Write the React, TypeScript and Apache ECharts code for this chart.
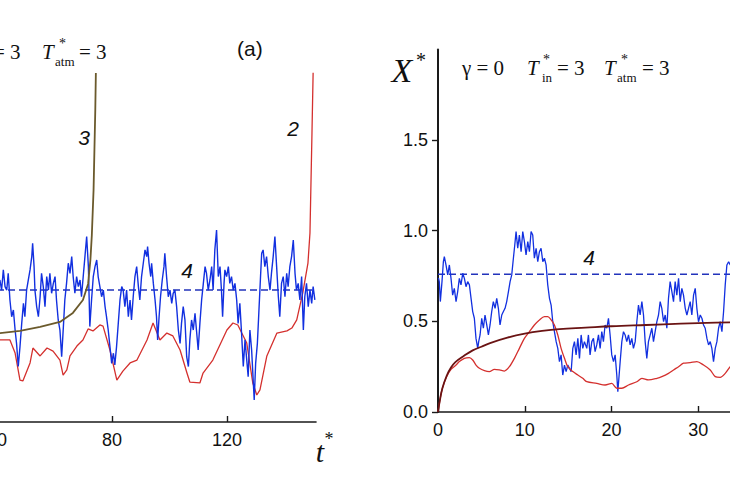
import React, { useEffect, useRef } from "react";
import * as echarts from "echarts";

// ---------- left panel (a) ----------
const leftXTicks = [40, 80, 120];
const leftDashLevel = 0.733;

const leftCurve3 = [
  [40.0, 0.492], [41.0, 0.494], [48.0, 0.506], [55.0, 0.528], [61.9, 0.556], [66.4, 0.606],
  [69.9, 0.678], [71.7, 0.767], [72.5, 0.9], [73.0, 1.039], [73.6, 1.289], [73.9, 1.511],
  [74.2, 1.733], [74.4, 1.939],
];

const leftCurve2 = [
  [40.0, 0.46], [41.0, 0.456], [44.5, 0.456], [46.3, 0.383], [48.0, 0.233], [49.0, 0.228],
  [51.5, 0.328], [52.5, 0.411], [55.0, 0.367], [57.4, 0.411], [59.5, 0.394], [61.9, 0.344],
  [63.0, 0.261], [64.3, 0.289], [65.4, 0.367], [67.8, 0.422], [69.9, 0.456], [71.7, 0.517],
  [73.4, 0.506], [75.8, 0.539], [76.9, 0.533], [79.3, 0.4], [81.7, 0.233], [83.8, 0.283],
  [86.3, 0.328], [88.7, 0.344], [92.2, 0.456], [94.3, 0.55], [96.7, 0.456], [99.1, 0.494],
  [101.2, 0.478], [103.7, 0.4], [106.1, 0.272], [107.1, 0.222], [110.6, 0.217], [111.7, 0.272],
  [115.1, 0.344], [120.0, 0.511], [122.1, 0.55], [123.8, 0.539], [126.9, 0.439], [129.0, 0.217],
  [130.4, 0.15], [131.5, 0.178], [133.9, 0.367], [137.4, 0.494], [140.9, 0.506], [142.6, 0.522],
  [144.3, 0.567], [146.4, 0.717], [148.2, 0.883], [148.9, 1.05], [149.6, 1.606], [150.0, 1.94],
];

const leftCurve4 = [
  [41.0, 0.789], [41.6, 0.733], [42.2, 0.845], [42.8, 0.752], [43.4, 0.733], [43.9, 0.826],
  [44.5, 0.678], [45.1, 0.585], [45.7, 0.622], [46.3, 0.511], [46.8, 0.437], [47.4, 0.308],
  [48.0, 0.419], [48.6, 0.548], [49.2, 0.659], [49.7, 0.585], [50.3, 0.733], [50.9, 0.789],
  [51.5, 0.845], [52.1, 0.919], [52.4, 0.993], [52.9, 0.863], [53.2, 0.733], [53.8, 0.641],
  [54.4, 0.585], [55.0, 0.696], [55.5, 0.826], [56.1, 0.752], [56.7, 0.641], [57.3, 0.808],
  [57.9, 0.733], [58.4, 0.826], [59.0, 0.715], [59.6, 0.77], [60.2, 0.808], [60.7, 0.678],
  [61.3, 0.567], [61.9, 0.511], [62.5, 0.363], [63.1, 0.53], [63.6, 0.678], [64.2, 0.77],
  [64.8, 0.882], [65.4, 0.826], [66.0, 0.919], [66.5, 0.808], [67.1, 0.715], [67.7, 0.808],
  [68.3, 0.752], [68.9, 0.789], [69.4, 0.696], [70.0, 0.808], [70.6, 0.919], [71.2, 1.03],
  [71.8, 0.863], [72.3, 0.53], [72.9, 0.678], [73.5, 0.808], [74.1, 0.863], [74.7, 0.9],
  [75.2, 0.808], [75.8, 0.752], [76.4, 0.696], [77.0, 0.733], [77.6, 0.641], [78.1, 0.585],
  [78.7, 0.511], [79.3, 0.419], [79.9, 0.326], [80.5, 0.382], [81.0, 0.317], [81.6, 0.419],
  [82.2, 0.548], [82.8, 0.678], [83.4, 0.752], [83.9, 0.733], [84.5, 0.641], [85.1, 0.733],
  [85.7, 0.585], [86.3, 0.678], [86.8, 0.567], [87.4, 0.696], [88.0, 0.808], [88.6, 0.863],
  [89.2, 0.752], [89.7, 0.678], [90.3, 0.808], [90.9, 0.882], [91.5, 0.956], [92.1, 0.919],
  [92.4, 0.974], [92.9, 0.882], [93.5, 0.808], [93.8, 0.882], [94.4, 0.77], [95.0, 0.678],
  [95.5, 0.585], [95.9, 0.456], [96.4, 0.585], [96.9, 0.696], [97.5, 0.789], [98.1, 0.863],
  [98.4, 0.937], [99.0, 0.808], [99.6, 0.696], [100.2, 0.733], [100.8, 0.659], [101.3, 0.715],
  [101.9, 0.733], [102.5, 0.641], [103.1, 0.511], [103.7, 0.437], [104.2, 0.548], [104.8, 0.641],
  [105.4, 0.567], [106.0, 0.363], [106.6, 0.308], [107.1, 0.456], [107.7, 0.567], [108.3, 0.511],
  [108.9, 0.604], [109.5, 0.493], [110.0, 0.4], [110.6, 0.548], [111.2, 0.678], [111.8, 0.77],
  [112.4, 0.863], [112.9, 0.826], [113.5, 0.733], [114.1, 0.789], [114.7, 0.863], [115.2, 0.733],
  [115.8, 0.956], [116.4, 1.067], [117.0, 0.808], [117.6, 0.863], [118.1, 0.733], [118.5, 0.585],
  [119.0, 0.77], [119.3, 0.845], [119.9, 0.808], [120.5, 0.863], [121.0, 0.77], [121.6, 0.808],
  [122.2, 0.733], [122.8, 0.77], [123.4, 0.678], [123.9, 0.548], [124.5, 0.659], [125.1, 0.493],
  [125.7, 0.308], [126.3, 0.456], [126.8, 0.363], [127.4, 0.252], [128.0, 0.511], [128.6, 0.4],
  [129.2, 0.215], [129.5, 0.122], [130.0, 0.326], [130.6, 0.437], [131.1, 0.604], [131.7, 0.808],
  [132.1, 0.937], [132.6, 0.956], [133.2, 0.863], [133.8, 0.919], [134.4, 0.808], [135.0, 0.733],
  [135.5, 0.826], [136.1, 0.919], [136.7, 1.03], [137.3, 0.863], [137.9, 0.696], [138.4, 0.585],
  [139.0, 0.77], [139.6, 0.808], [140.2, 0.696], [140.8, 0.826], [141.3, 0.752], [141.9, 0.863],
  [142.5, 0.919], [143.1, 1.011], [143.7, 0.826], [144.2, 0.733], [144.8, 0.77], [145.4, 0.678],
  [146.0, 0.808], [146.6, 0.511], [147.1, 0.696], [147.7, 0.77], [148.3, 0.641], [148.9, 0.733],
  [149.5, 0.659], [150.0, 0.752], [150.6, 0.678],
];

// ---------- right panel ----------
const rightXTicks = [0, 10, 20, 30];
const rightYTicks = [0, 0.5, 1.0, 1.5];
const rightDashLevel = 0.76;

const rightSmooth = [
  [0, 0], [0.2, 0.06], [0.5, 0.13], [1, 0.2], [1.5, 0.245], [2, 0.275], [3, 0.31], [4, 0.34],
  [5, 0.36], [6, 0.38], [8, 0.41], [10, 0.432], [12, 0.447], [14, 0.457], [17, 0.465],
  [20, 0.473], [24, 0.48], [28, 0.487], [30, 0.49], [34, 0.495], [40, 0.5],
];

const rightRed = [
  [0, 0], [0.2, 0.06], [0.5, 0.13], [1, 0.195], [1.5, 0.235], [2.08, 0.259], [2.46, 0.278],
  [3.04, 0.296], [3.62, 0.3], [4.0, 0.287], [4.38, 0.259], [4.77, 0.241], [5.35, 0.228],
  [5.92, 0.223], [6.5, 0.235], [7.08, 0.232], [7.65, 0.226], [8.23, 0.25], [8.81, 0.296],
  [9.38, 0.351], [9.96, 0.406], [10.54, 0.443], [11.11, 0.48], [11.69, 0.508], [12.27, 0.526],
  [12.65, 0.526], [13.04, 0.508], [13.42, 0.48], [13.81, 0.425], [14.19, 0.351], [14.58, 0.296],
  [14.96, 0.25], [15.54, 0.223], [16.12, 0.204], [16.69, 0.186], [17.15, 0.167], [18.3, 0.158],
  [19.26, 0.149], [20.03, 0.158], [20.61, 0.131], [21.19, 0.131], [21.96, 0.149], [22.92, 0.167],
  [23.5, 0.186], [24.26, 0.177], [25.23, 0.186], [25.8, 0.195], [26.57, 0.213], [27.15, 0.232],
  [27.73, 0.25], [28.3, 0.269], [29.07, 0.272], [29.84, 0.278], [30.61, 0.259], [31.38, 0.232],
  [31.96, 0.195], [32.53, 0.191], [33.11, 0.213], [33.69, 0.25], [34.2, 0.27],
];

const rightBlue = [
  [0.05, 0.74], [0.15, 0.719], [0.27, 0.609], [0.46, 0.719], [0.62, 0.829], [0.73, 0.857],
  [0.92, 0.811], [1.12, 0.756], [1.31, 0.811], [1.5, 0.737], [1.69, 0.645], [1.88, 0.682],
  [2.08, 0.609], [2.27, 0.664], [2.46, 0.737], [2.65, 0.701], [2.85, 0.765], [3.04, 0.737],
  [3.23, 0.691], [3.42, 0.719], [3.62, 0.701], [3.81, 0.627], [4.0, 0.554], [4.19, 0.517],
  [4.38, 0.406], [4.58, 0.351], [4.69, 0.388], [4.85, 0.425], [5.04, 0.517], [5.23, 0.462],
  [5.42, 0.535], [5.62, 0.48], [5.81, 0.425], [6.0, 0.48], [6.19, 0.554], [6.38, 0.609],
  [6.58, 0.572], [6.77, 0.627], [6.96, 0.572], [7.15, 0.48], [7.35, 0.535], [7.54, 0.554],
  [7.73, 0.572], [7.92, 0.609], [8.12, 0.664], [8.31, 0.719], [8.5, 0.756], [8.69, 0.848],
  [8.85, 0.921], [9.0, 0.995], [9.19, 0.903], [9.38, 0.976], [9.58, 0.884], [9.77, 0.995],
  [9.96, 0.94], [10.15, 0.866], [10.35, 0.94], [10.54, 0.884], [10.73, 0.995], [10.92, 0.976],
  [11.11, 0.848], [11.31, 0.903], [11.5, 0.829], [11.69, 0.884], [11.88, 0.903], [12.08, 0.829],
  [12.27, 0.848], [12.46, 0.811], [12.65, 0.701], [12.85, 0.627], [13.04, 0.59], [13.23, 0.498],
  [13.42, 0.443], [13.62, 0.388], [13.81, 0.351], [14.0, 0.278], [14.19, 0.315], [14.38, 0.204],
  [14.58, 0.259], [14.77, 0.223], [14.96, 0.259], [15.15, 0.241], [15.35, 0.223], [15.54, 0.351],
  [15.73, 0.388], [15.92, 0.315], [16.12, 0.406], [16.31, 0.296], [16.5, 0.425], [16.69, 0.351],
  [16.88, 0.388], [17.15, 0.351], [17.34, 0.425], [17.53, 0.315], [17.73, 0.388], [17.92, 0.406],
  [18.11, 0.333], [18.3, 0.37], [18.5, 0.425], [18.69, 0.351], [18.88, 0.443], [19.07, 0.388],
  [19.26, 0.48], [19.46, 0.462], [19.65, 0.517], [19.84, 0.425], [20.03, 0.315], [20.23, 0.278],
  [20.42, 0.315], [20.61, 0.204], [20.73, 0.112], [20.88, 0.204], [21.0, 0.278], [21.19, 0.388],
  [21.38, 0.443], [21.57, 0.425], [21.76, 0.388], [21.96, 0.425], [22.15, 0.37], [22.34, 0.406],
  [22.53, 0.351], [22.73, 0.388], [22.92, 0.498], [23.11, 0.59], [23.3, 0.535], [23.5, 0.609],
  [23.69, 0.535], [23.88, 0.388], [24.07, 0.296], [24.26, 0.388], [24.46, 0.425], [24.65, 0.462],
  [24.84, 0.388], [25.03, 0.443], [25.23, 0.498], [25.42, 0.535], [25.61, 0.609], [25.8, 0.572],
  [26.0, 0.498], [26.19, 0.535], [26.38, 0.462], [26.57, 0.627], [26.76, 0.719], [26.96, 0.664],
  [27.15, 0.609], [27.34, 0.719], [27.53, 0.645], [27.73, 0.737], [27.92, 0.609], [28.11, 0.682],
  [28.3, 0.645], [28.5, 0.572], [28.69, 0.535], [28.88, 0.572], [29.07, 0.609], [29.26, 0.535],
  [29.46, 0.645], [29.65, 0.682], [29.84, 0.572], [30.03, 0.498], [30.23, 0.535], [30.42, 0.517],
  [30.61, 0.48], [30.8, 0.462], [31.0, 0.406], [31.19, 0.37], [31.38, 0.388], [31.57, 0.351],
  [31.76, 0.278], [31.96, 0.351], [32.15, 0.388], [32.34, 0.462], [32.53, 0.498], [32.73, 0.443],
  [32.92, 0.554], [33.11, 0.701], [33.3, 0.811], [33.5, 0.829], [33.69, 0.811], [33.9, 0.84],
];

const BLUE = "#1230e0";
const RED = "#d4302e";
const OLIVE = "#6b5a2c";
const DARKRED = "#6a1313";
const AXIS = "#1a1a1a";
const SANS = "Liberation Sans";
const SERIF = "Liberation Serif";

function txt(
  text: string,
  x: number,
  y: number,
  size: number,
  family: string,
  italic = false,
  align = "left"
) {
  return {
    type: "text",
    x,
    y,
    silent: true,
    style: {
      text,
      fontSize: size,
      fontFamily: family,
      fontStyle: italic ? "italic" : "normal",
      fill: "#111",
      align,
      verticalAlign: "middle",
    },
  };
}

function titleRight() {
  return [
    txt("γ = 0", 462, 68, 21, SERIF),
    txt("T", 527, 68, 21, SERIF, true),
    txt("*", 543, 59, 14, SERIF),
    txt("in", 542, 77, 13, SERIF),
    txt("= 3", 557, 68, 21, SERIF),
    txt("T", 604, 68, 21, SERIF, true),
    txt("*", 621, 59, 14, SERIF),
    txt("atm", 617, 77, 13, SERIF),
    txt("= 3", 642, 68, 21, SERIF),
  ];
}

function titleLeft() {
  return [
    txt("= 3", -7, 52, 21, SERIF),
    txt("T", 42, 52, 21, SERIF, true),
    txt("*", 59, 43, 14, SERIF),
    txt("atm", 55, 61, 13, SERIF),
    txt("= 3", 79, 52, 21, SERIF),
  ];
}

export default function App() {
  const ref = useRef<HTMLDivElement>(null);
  useEffect(() => {
    if (!ref.current) return;
    const chart = echarts.init(ref.current, undefined, { renderer: "svg" });
    const axisLabel = { color: "#111", fontSize: 18, fontFamily: SANS };
    const option: any = {
      animation: false,
      backgroundColor: "#ffffff",
      grid: [
        { left: -3, top: 62, width: 319, height: 360, outerBoundsMode: "none", containLabel: false },
        { left: 438, top: 49.4, width: 347, height: 362.6, outerBoundsMode: "none", containLabel: false },
      ],
      xAxis: [
        {
          type: "value",
          gridIndex: 0,
          min: 40,
          max: 151,
          axisLine: { show: true, lineStyle: { color: AXIS, width: 1.6 } },
          axisTick: { show: true, inside: true, length: 6, customValues: leftXTicks, lineStyle: { color: AXIS, width: 1.4 } },
          axisLabel: { ...axisLabel, margin: 9, customValues: leftXTicks },
          splitLine: { show: false },
        },
        {
          type: "value",
          gridIndex: 1,
          min: 0,
          max: 40,
          interval: 10,
          axisLine: { show: true, onZero: false, lineStyle: { color: AXIS, width: 1.6 } },
          axisTick: { show: true, inside: true, length: 6, customValues: rightXTicks, lineStyle: { color: AXIS, width: 1.4 } },
          axisLabel: { ...axisLabel, margin: 9, customValues: rightXTicks },
          splitLine: { show: false },
        },
      ],
      yAxis: [
        { type: "value", gridIndex: 0, min: 0, max: 2, show: false, splitLine: { show: false } },
        {
          type: "value",
          gridIndex: 1,
          min: 0,
          max: 2,
          axisLine: { show: true, onZero: false, lineStyle: { color: AXIS, width: 2 } },
          axisTick: { show: true, inside: false, length: 6, customValues: rightYTicks, lineStyle: { color: AXIS, width: 1.4 } },
          axisLabel: { ...axisLabel, margin: 10, customValues: rightYTicks, formatter: (v: number) => v.toFixed(1) },
          splitLine: { show: false },
        },
      ],
      series: [
        {
          type: "line", xAxisIndex: 0, yAxisIndex: 0, showSymbol: false, symbol: "none",
          data: [[40, leftDashLevel], [151, leftDashLevel]],
          lineStyle: { color: "#2233bb", width: 1.4, type: [7, 4] },
        },
        {
          type: "line", xAxisIndex: 0, yAxisIndex: 0, showSymbol: false, symbol: "none",
          data: leftCurve2, lineStyle: { color: RED, width: 1.3 },
        },
        {
          type: "line", xAxisIndex: 0, yAxisIndex: 0, showSymbol: false, symbol: "none",
          data: leftCurve4, lineStyle: { color: BLUE, width: 1.4 },
        },
        {
          type: "line", xAxisIndex: 0, yAxisIndex: 0, showSymbol: false, symbol: "none",
          data: leftCurve3, lineStyle: { color: OLIVE, width: 1.8 },
        },
        {
          type: "line", xAxisIndex: 1, yAxisIndex: 1, showSymbol: false, symbol: "none",
          data: [[0, rightDashLevel], [40, rightDashLevel]],
          lineStyle: { color: "#2233bb", width: 1.4, type: [7, 4] },
        },
        {
          type: "line", xAxisIndex: 1, yAxisIndex: 1, showSymbol: false, symbol: "none",
          data: rightBlue, lineStyle: { color: BLUE, width: 1.3 },
        },
        {
          type: "line", xAxisIndex: 1, yAxisIndex: 1, showSymbol: false, symbol: "none",
          data: rightRed, lineStyle: { color: RED, width: 1.3 }, smooth: 0.3,
        },
        {
          type: "line", xAxisIndex: 1, yAxisIndex: 1, showSymbol: false, symbol: "none",
          data: rightSmooth, lineStyle: { color: DARKRED, width: 1.8 }, smooth: 0.4,
        },
      ],
      graphic: [
        ...titleLeft(),
        ...titleRight(),
        txt("(a)", 237, 48, 21, SANS),
        txt("3", 84, 137, 21, SANS, true, "center"),
        txt("2", 293, 128, 21, SANS, true, "center"),
        txt("4", 187, 270, 21, SANS, true, "center"),
        txt("4", 589, 257, 21, SANS, true, "center"),
        txt("t", 320, 451, 30, SERIF, true, "center"),
        txt("*", 329, 439, 18, SERIF, false, "center"),
        txt("X", 402, 70, 34, SERIF, true, "center"),
        txt("*", 421, 60, 20, SERIF, false, "center"),
      ],
    };
    chart.setOption(option);
    return () => chart.dispose();
  }, []);
  return (
    <div
      ref={ref}
      style={{ position: "fixed", left: 0, top: 0, width: 730, height: 486, background: "#fff" }}
    />
  );
}
